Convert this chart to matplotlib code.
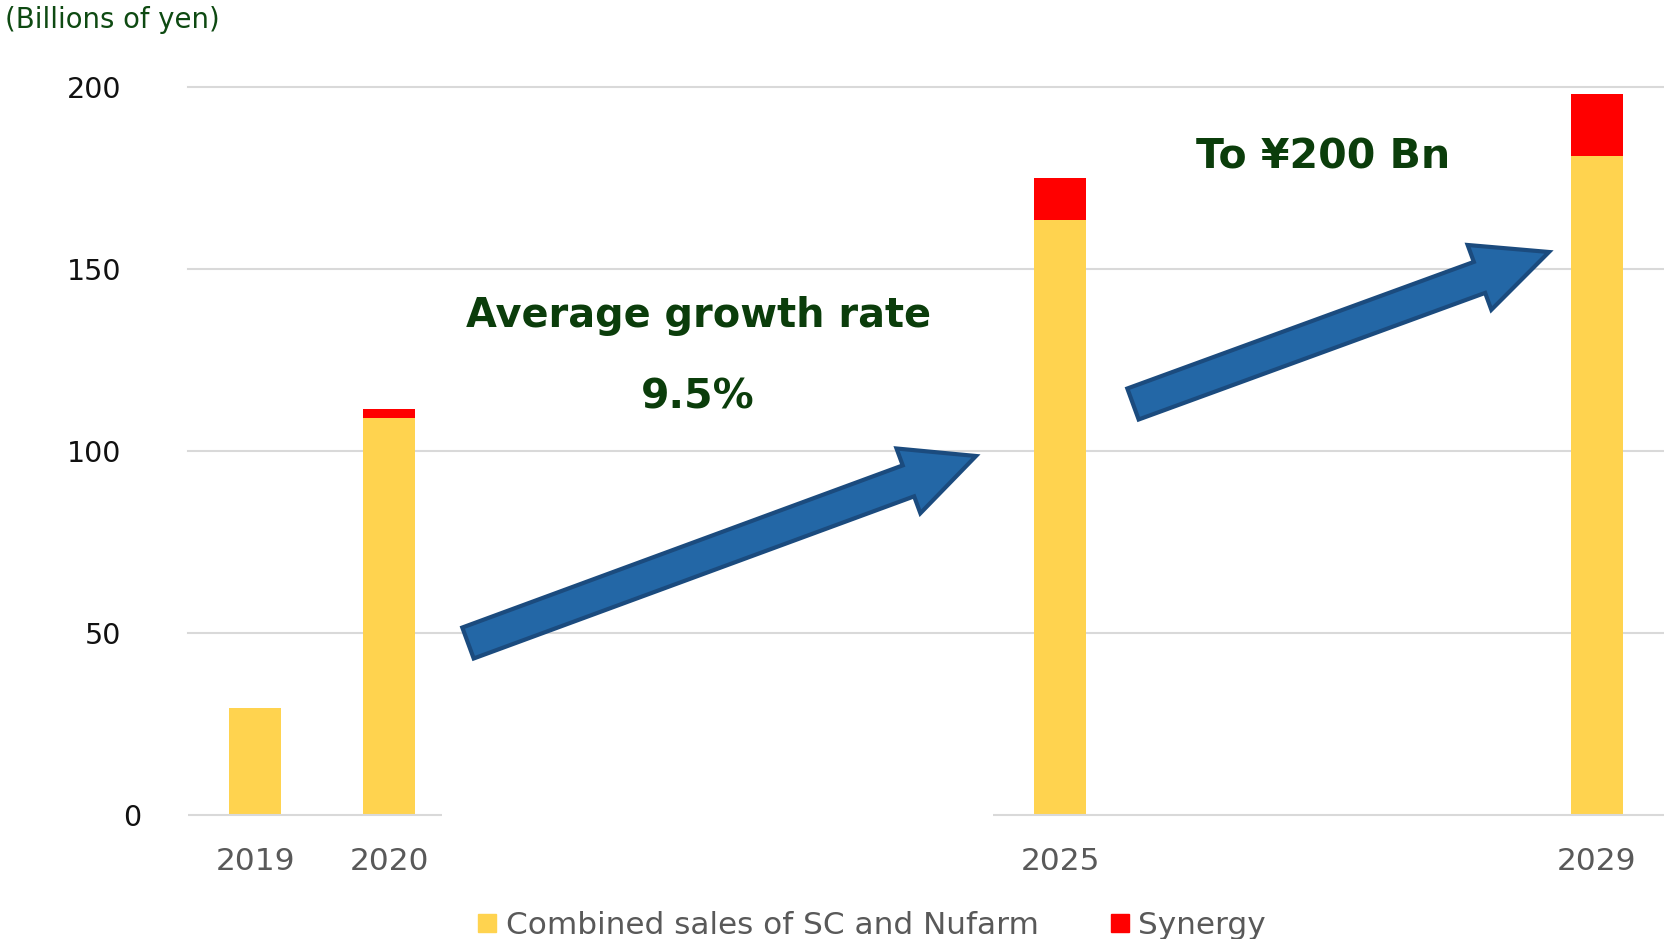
import numpy as np
import matplotlib.pyplot as plt
import matplotlib.transforms as mtransforms
from matplotlib.patches import Polygon
from matplotlib.lines import Line2D

# Werte (Mrd. Yen)
years = [2019, 2020, 2025, 2029]
combined_sales = [29.5, 109, 163.5, 181]
synergy = [0, 2.5, 11.5, 17]
yticks = [0, 50, 100, 150, 200]
legend_labels = ['Combined sales of SC and Nufarm', 'Synergy']

W, H = 1664, 939
yellow = '#FFD34F'
red = '#FF0000'
green = '#0B3D0B'
blue_fill = '#2367A6'
blue_edge = '#1B4B7E'

plt.rcParams['font.family'] = ['DejaVu Sans']

fig = plt.figure(figsize=(W / 100, H / 100), dpi=100)
ax = fig.add_axes([188 / W, (H - 815) / H, (W - 188) / W, 728 / H])

ax.bar(years, combined_sales, width=0.39, color=yellow, zorder=2, label=legend_labels[0])
ax.bar(years, synergy, width=0.39, bottom=combined_sales, color=red, zorder=2, label=legend_labels[1])

ax.set_xlim(2018.5, 2029.5)
ax.set_ylim(0, 200)
ax.set_xticks(years)
ax.set_xticklabels([str(y) for y in years])
ax.set_yticks(yticks)

for s in ax.spines.values():
    s.set_visible(False)

# Gitterlinien
for v in yticks[1:]:
    ax.axhline(v, color='#D9D9D9', lw=1.5, zorder=1, clip_on=False)
# Nulllinie mit Lücke in der Mitte
ax.hlines(0, 2018.5, 2020.39, color='#D9D9D9', lw=1.5, zorder=3, clip_on=False)
ax.hlines(0, 2024.5, 2029.5, color='#D9D9D9', lw=1.5, zorder=3, clip_on=False)

ax.tick_params(axis='both', length=0)
ax.tick_params(axis='y', labelsize=20.5, labelcolor='#111111', pad=48)
ax.tick_params(axis='x', labelsize=22.5, labelcolor='#595959', pad=23)

# die "0" steht im Original etwas weiter rechts
zero_label = ax.get_yticklabels()[0]
zero_label.set_transform(zero_label.get_transform() +
                         mtransforms.ScaledTranslation(0.2, 0, fig.dpi_scale_trans))


def arrow(tail, tip, shaft_w, head_w, head_l):
    # Pfeil als Polygon in Pixeln (y nach unten), dann in Figurkoordinaten
    t = np.array([tail[0], H - tail[1]], float)
    p = np.array([tip[0], H - tip[1]], float)
    d = (p - t) / np.linalg.norm(p - t)
    n = np.array([-d[1], d[0]])
    b = p - d * head_l
    pts = [t + n * shaft_w / 2, b + n * shaft_w / 2, b + n * head_w / 2, p,
           b - n * head_w / 2, b - n * shaft_w / 2, t - n * shaft_w / 2]
    pts = np.array(pts) / [W, H]
    fig.patches.append(Polygon(pts, closed=True, transform=fig.transFigure,
                               facecolor=blue_fill, edgecolor=blue_edge, lw=3,
                               joinstyle='miter', zorder=5))


arrow((468, 643), (976, 456), 33, 69, 72)
arrow((1133, 404), (1549, 252), 33, 69, 74)

fig.text(699 / W, 1 - 327 / H, 'Average growth rate', fontsize=28.7, fontweight='bold',
         color=green, ha='center', va='baseline')
fig.text(698 / W, 1 - 409 / H, '9.5%', fontsize=29.5, fontweight='bold',
         color=green, ha='center', va='baseline')
fig.text(1323 / W, 1 - 169 / H, 'To ¥200 Bn', fontsize=29.5, fontweight='bold',
         color=green, ha='center', va='baseline')
fig.text(5 / W, 1 - 20 / H, '(Billions of yen)', fontsize=19.8, color='#0E4A12',
         ha='left', va='center')

handles = [Line2D([], [], marker='s', ls='none', color=yellow, markersize=13),
           Line2D([], [], marker='s', ls='none', color=red, markersize=13)]
fig.legend(handles, legend_labels, loc='center', bbox_to_anchor=(0.524, 1 - 925 / H),
           ncol=2, frameon=False, fontsize=22.4, labelcolor='#595959',
           handlelength=0.6, handletextpad=0.3, columnspacing=2.3, borderpad=0)

fig.savefig('out.png', dpi=100)
